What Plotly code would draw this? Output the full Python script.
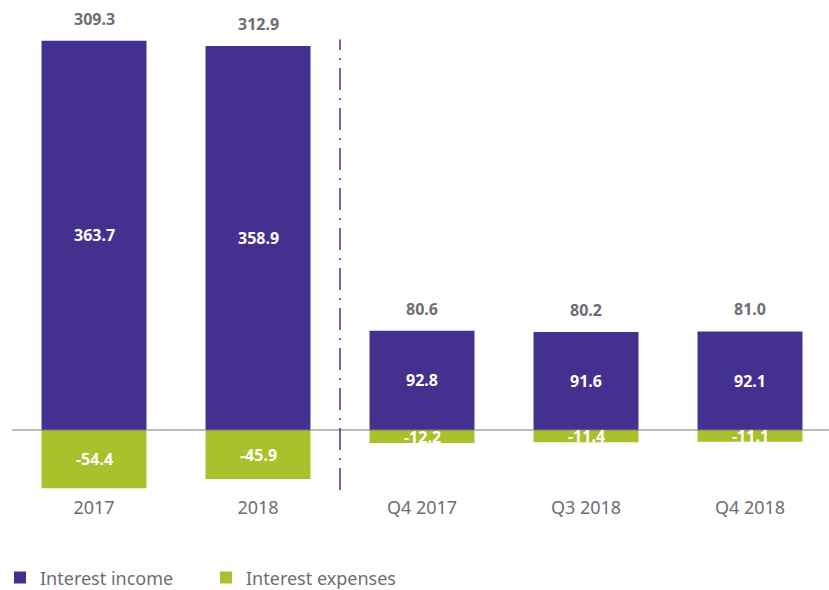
import plotly.graph_objects as go

categories = ["2017", "2018", "Q4 2017", "Q3 2018", "Q4 2018"]
interest_income = [363.7, 358.9, 92.8, 91.6, 92.1]
interest_expenses = [-54.4, -45.9, -12.2, -11.4, -11.1]
net_interest = [309.3, 312.9, 80.6, 80.2, 81.0]

PURPLE = "#44318f"
GREEN = "#a9c22b"
GREY = "#6d6e71"
FONT = "Noto Sans"

x_idx = list(range(len(categories)))

fig = go.Figure()
fig.add_trace(go.Bar(
    x=x_idx, y=interest_income, name="Interest income",
    marker=dict(color=PURPLE, line=dict(width=0)), width=0.64,
))
fig.add_trace(go.Bar(
    x=x_idx, y=interest_expenses, name="Interest expenses",
    marker=dict(color=GREEN, line=dict(width=0)), width=0.64,
))

annotations = []
for i, (inc, exp, net) in enumerate(zip(interest_income, interest_expenses, net_interest)):
    # value labels inside the bars
    annotations.append(dict(x=i, y=inc / 2, text=f"<b>{inc:.1f}</b>", showarrow=False,
                            font=dict(family=FONT, size=16, color="white")))
    annotations.append(dict(x=i, y=exp / 2, text=f"<b>{exp:.1f}</b>", showarrow=False,
                            font=dict(family=FONT, size=16, color="white")))
    # net interest income above each bar
    annotations.append(dict(x=i, y=inc, text=f"<b>{net:.1f}</b>", showarrow=False,
                            yanchor="bottom", yshift=9,
                            font=dict(family=FONT, size=16, color=GREY)))

fig.update_layout(
    width=829, height=590,
    margin=dict(l=12, r=0, t=0, b=97, autoexpand=False),
    plot_bgcolor="white", paper_bgcolor="white",
    barmode="relative",
    font=dict(family=FONT, size=18, color=GREY),
    annotations=annotations,
    showlegend=True,
    legend=dict(orientation="h", xref="container", x=-0.002, xanchor="left",
                yref="container", y=0.052, yanchor="top",
                font=dict(family=FONT, size=18, color=GREY),
                entrywidth=161, traceorder="normal"),
    xaxis=dict(range=[-0.5, -0.5 + 817 / 164], tickmode="array", tickvals=x_idx,
               ticktext=categories, showgrid=False, zeroline=False, showline=False,
               ticks="", ticklabelstandoff=2,
               tickfont=dict(family=FONT, size=18, color=GREY)),
    yaxis=dict(range=[-58.9, 401.9], visible=False, showgrid=False, zeroline=False),
    shapes=[
        dict(type="line", xref="paper", x0=0, x1=1, yref="y", y0=0, y1=0,
             line=dict(color="#7a7a7a", width=1.2), layer="above"),
        dict(type="line", xref="x", x0=1.5, x1=1.5, yref="y", y0=-56, y1=365,
             line=dict(color=PURPLE, width=1.5, dash="22px,8px,2px,8px"), layer="above"),
    ],
)

fig.write_html("out.html")
